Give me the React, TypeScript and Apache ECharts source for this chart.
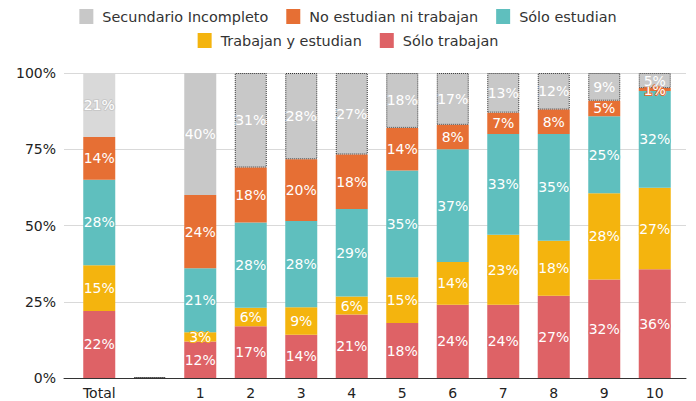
import React, { useEffect, useRef } from "react";
import * as echarts from "echarts";

const categories = ["Total", "", "1", "2", "3", "4", "5", "6", "7", "8", "9", "10"];
const soloTrabajan = [22, null, 12, 17, 14, 21, 18, 24, 24, 27, 32, 36];
const trabajanEstudian = [15, null, 3, 6, 9, 6, 15, 14, 23, 18, 28, 27];
const soloEstudian = [28, null, 21, 28, 28, 29, 35, 37, 33, 35, 25, 32];
const noEstudianNiTrabajan = [14, null, 24, 18, 20, 18, 14, 8, 7, 8, 5, 1];
const secundarioIncompleto = [21, null, 40, 31, 28, 27, 18, 17, 13, 12, 9, 5];
const yTicks = ["0%", "25%", "50%", "75%", "100%"];

const FONT = "DejaVu Sans";

export default function App() {
  const ref = useRef<HTMLDivElement>(null);
  useEffect(() => {
    if (!ref.current) return;
    const chart = echarts.init(ref.current, null, { renderer: "svg" });
    const all = [soloTrabajan, trabajanEstudian, soloEstudian, noEstudianNiTrabajan, secundarioIncompleto];
    const sums = categories.map((_, i) => all.reduce((s, a) => s + (a[i] ?? 0), 0));
    const defs = [
      { name: "Sólo trabajan", data: soloTrabajan, color: "#de6266" },
      { name: "Trabajan y estudian", data: trabajanEstudian, color: "#f4b40e" },
      { name: "Sólo estudian", data: soloEstudian, color: "#5fbfbe" },
      { name: "No estudian ni trabajan", data: noEstudianNiTrabajan, color: "#e66f34" },
      { name: "Secundario Incompleto", data: secundarioIncompleto, color: "#c8c8c8" },
    ];
    const series: any[] = defs.map((d, si) => ({
      name: d.name,
      type: "bar",
      stack: "s",
      xAxisIndex: 0,
      yAxisIndex: 0,
      barWidth: 32,
      itemStyle: { color: d.color },
      label: {
        show: true,
        position: "inside",
        color: "#fff",
        fontFamily: FONT,
        fontSize: 14,
        textBorderColor: d.color,
        textBorderWidth: 2,
        formatter: (p: any) => {
          const raw = d.data[p.dataIndex];
          return raw == null ? "" : raw + "%";
        },
      },
      data: categories.map((_, i) => {
        const raw = d.data[i];
        if (raw == null) {
          if (si === 4) {
            return {
              value: 0.3,
              itemStyle: { color: "rgba(0,0,0,0)", borderColor: "#333", borderType: "dotted", borderWidth: 1 },
              label: { show: false },
            };
          }
          return null;
        }
        const v = (raw / sums[i]) * 100;
        if (si === 4) {
          if (i === 0) return { value: v, itemStyle: { color: "#d9d9d9" } };
          if (i >= 3) {
            return {
              value: v,
              itemStyle: { color: d.color, borderColor: "#333", borderType: "dotted", borderWidth: 1 },
            };
          }
        }
        return v;
      }),
    }));
    const legendText = { fontFamily: FONT, fontSize: 14.4, color: "#333", padding: [0, 0, 0, 4] };
    chart.setOption({
      animation: false,
      textStyle: { fontFamily: FONT },
      legend: [
        {
          data: ["Secundario Incompleto", "No estudian ni trabajan", "Sólo estudian"],
          top: 4,
          left: "center",
          itemWidth: 14,
          itemHeight: 15,
          itemGap: 18,
          icon: "rect",
          textStyle: legendText,
        },
        {
          data: ["Trabajan y estudian", "Sólo trabajan"],
          top: 28,
          left: "center",
          itemWidth: 14,
          itemHeight: 15,
          itemGap: 18,
          icon: "rect",
          textStyle: legendText,
        },
      ],
      grid: [
        { left: 74, right: 16, top: 73, bottom: 23 },
        { left: 64, right: 10, top: 73, bottom: 23 },
      ],
      xAxis: [
        {
          type: "category",
          gridIndex: 0,
          data: categories,
          axisLine: { show: false },
          axisTick: { show: false },
          axisLabel: { color: "#222", fontSize: 14, fontFamily: FONT, margin: 8 },
        },
        {
          type: "value",
          gridIndex: 1,
          min: 0,
          max: 1,
          axisLine: { show: true, lineStyle: { color: "#333", width: 1 } },
          axisTick: { show: false },
          axisLabel: { show: false },
          splitLine: { show: false },
        },
      ],
      yAxis: [
        { type: "value", gridIndex: 0, min: 0, max: 100, show: false, splitLine: { show: false } },
        {
          type: "value",
          gridIndex: 1,
          min: 0,
          max: 100,
          interval: 25,
          axisLine: { show: false },
          axisTick: { show: false },
          axisLabel: {
            color: "#222",
            fontSize: 14,
            fontFamily: FONT,
            margin: 8,
            formatter: (v: number) => yTicks[Math.round(v / 25)],
          },
          splitLine: { show: true, lineStyle: { color: "#d9d9d9", width: 1 } },
        },
      ],
      series,
    });
    return () => chart.dispose();
  }, []);
  return <div ref={ref} style={{ width: 696, height: 401, position: "absolute", left: 0, top: 0 }} />;
}
